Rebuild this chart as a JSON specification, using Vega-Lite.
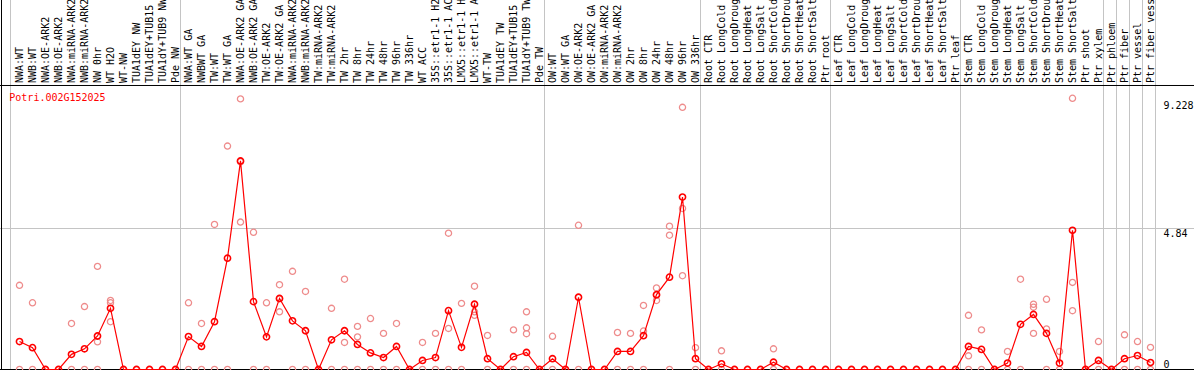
{
  "$schema": "https://vega.github.io/schema/vega-lite/v6.json",
  "width": 1194,
  "height": 370,
  "autosize": {"type": "none"},
  "padding": 0,
  "background": "white",
  "config": {"view": {"stroke": null}, "font": "DejaVu Sans Mono"},
  "resolve": {"axis": {"y": "independent", "x": "independent"}},
  "datasets": {
    "samples": [
      {"i": 0, "sample": "NWA:WT", "mean": 0.96},
      {"i": 1, "sample": "NWB:WT", "mean": 0.75},
      {"i": 2, "sample": "NWA:OE-ARK2", "mean": 0},
      {"i": 3, "sample": "NWB:OE-ARK2", "mean": 0},
      {"i": 4, "sample": "NWA:miRNA-ARK2", "mean": 0.52},
      {"i": 5, "sample": "NWB:miRNA-ARK2", "mean": 0.71},
      {"i": 6, "sample": "NW 0hr", "mean": 1.15},
      {"i": 7, "sample": "WT H2O", "mean": 2.1},
      {"i": 8, "sample": "WT-NW", "mean": 0},
      {"i": 9, "sample": "TUA1dEY NW", "mean": 0},
      {"i": 10, "sample": "TUA1dEY+TUB15 NW", "mean": 0},
      {"i": 11, "sample": "TUA1dY+TUB9 NW", "mean": 0},
      {"i": 12, "sample": "Pde NW", "mean": 0},
      {"i": 13, "sample": "NWA:WT GA", "mean": 1.13},
      {"i": 14, "sample": "NWBWT GA", "mean": 0.79},
      {"i": 15, "sample": "TW:WT", "mean": 1.64},
      {"i": 16, "sample": "TW:WT GA", "mean": 3.82},
      {"i": 17, "sample": "NWA:OE-ARK2 GA", "mean": 7.16},
      {"i": 18, "sample": "NWB:OE-ARK2 GA", "mean": 2.33},
      {"i": 19, "sample": "TW:OE-ARK2", "mean": 1.12},
      {"i": 20, "sample": "TW:OE-ARK2 GA", "mean": 2.44},
      {"i": 21, "sample": "NWA:miRNA-ARK2", "mean": 1.67},
      {"i": 22, "sample": "NWB:miRNA-ARK2", "mean": 1.33},
      {"i": 23, "sample": "TW:miRNA-ARK2", "mean": 0},
      {"i": 24, "sample": "TW:miRNA-ARK2", "mean": 1.02},
      {"i": 25, "sample": "TW 2hr", "mean": 1.33},
      {"i": 26, "sample": "TW 8hr", "mean": 0.86},
      {"i": 27, "sample": "TW 24hr", "mean": 0.57},
      {"i": 28, "sample": "TW 48hr", "mean": 0.41},
      {"i": 29, "sample": "TW 96hr", "mean": 0.79},
      {"i": 30, "sample": "TW 336hr", "mean": 0},
      {"i": 31, "sample": "WT ACC", "mean": 0.31},
      {"i": 32, "sample": "35S::etr1-1 H2O", "mean": 0.41},
      {"i": 33, "sample": "35S::etr1-1 ACC", "mean": 2.02},
      {"i": 34, "sample": "LMX5::etr1-1 H2O", "mean": 0.76},
      {"i": 35, "sample": "LMX5::etr1-1 ACC", "mean": 2.24},
      {"i": 36, "sample": "WT-TW", "mean": 0.37},
      {"i": 37, "sample": "TUA1dEY TW", "mean": 0},
      {"i": 38, "sample": "TUA1dEY+TUB15 TW", "mean": 0.44},
      {"i": 39, "sample": "TUA1dY+TUB9 TW", "mean": 0.585},
      {"i": 40, "sample": "Pde TW", "mean": 0},
      {"i": 41, "sample": "OW:WT", "mean": 0.37},
      {"i": 42, "sample": "OW:WT GA", "mean": 0},
      {"i": 43, "sample": "OW:OE-ARK2", "mean": 2.48},
      {"i": 44, "sample": "OW:OE-ARK2 GA", "mean": 0},
      {"i": 45, "sample": "OW:miRNA-ARK2", "mean": 0},
      {"i": 46, "sample": "OW:miRNA-ARK2", "mean": 0.62},
      {"i": 47, "sample": "OW 2hr", "mean": 0.62},
      {"i": 48, "sample": "OW 8hr", "mean": 1.16},
      {"i": 49, "sample": "OW 24hr", "mean": 2.57},
      {"i": 50, "sample": "OW 48hr", "mean": 3.17},
      {"i": 51, "sample": "OW 96hr", "mean": 5.92},
      {"i": 52, "sample": "OW 336hr", "mean": 0.37},
      {"i": 53, "sample": "Root CTR", "mean": 0},
      {"i": 54, "sample": "Root LongCold", "mean": 0.195},
      {"i": 55, "sample": "Root LongDrought", "mean": 0},
      {"i": 56, "sample": "Root LongHeat", "mean": 0},
      {"i": 57, "sample": "Root LongSalt", "mean": 0},
      {"i": 58, "sample": "Root ShortCold", "mean": 0.25},
      {"i": 59, "sample": "Root ShortDrought", "mean": 0},
      {"i": 60, "sample": "Root ShortHeat", "mean": 0},
      {"i": 61, "sample": "Root ShortSalt", "mean": 0},
      {"i": 62, "sample": "Ptr root", "mean": 0},
      {"i": 63, "sample": "Leaf CTR", "mean": 0},
      {"i": 64, "sample": "Leaf LongCold", "mean": 0},
      {"i": 65, "sample": "Leaf LongDrought", "mean": 0},
      {"i": 66, "sample": "Leaf LongHeat", "mean": 0},
      {"i": 67, "sample": "Leaf LongSalt", "mean": 0},
      {"i": 68, "sample": "Leaf ShortCold", "mean": 0},
      {"i": 69, "sample": "Leaf ShortDrought", "mean": 0},
      {"i": 70, "sample": "Leaf ShortHeat", "mean": 0},
      {"i": 71, "sample": "Leaf ShortSalt", "mean": 0},
      {"i": 72, "sample": "Ptr leaf", "mean": 0},
      {"i": 73, "sample": "Stem CTR", "mean": 0.79},
      {"i": 74, "sample": "Stem LongCold", "mean": 0.69},
      {"i": 75, "sample": "Stem LongDrought", "mean": 0},
      {"i": 76, "sample": "Stem LongHeat", "mean": 0.22},
      {"i": 77, "sample": "Stem LongSalt", "mean": 1.55},
      {"i": 78, "sample": "Stem ShortCold", "mean": 1.89},
      {"i": 79, "sample": "Stem ShortDrought", "mean": 1.24},
      {"i": 80, "sample": "Stem ShortHeat", "mean": 0.22},
      {"i": 81, "sample": "Stem ShortSalt", "mean": 4.78},
      {"i": 82, "sample": "Ptr shoot", "mean": 0},
      {"i": 83, "sample": "Ptr xylem", "mean": 0.31},
      {"i": 84, "sample": "Ptr phloem", "mean": 0},
      {"i": 85, "sample": "Ptr fiber", "mean": 0.37},
      {"i": 86, "sample": "Ptr vessel", "mean": 0.48},
      {"i": 87, "sample": "Ptr fiber vessel", "mean": 0.24}
    ],
    "reps": [
      {"i": 0, "value": 2.89}, {"i": 0, "value": 0},
      {"i": 1, "value": 2.29}, {"i": 1, "value": 0},
      {"i": 4, "value": 1.58}, {"i": 4, "value": 0},
      {"i": 5, "value": 2.16}, {"i": 5, "value": 0},
      {"i": 6, "value": 3.54}, {"i": 6, "value": 0.95}, {"i": 6, "value": 0},
      {"i": 7, "value": 2.29}, {"i": 7, "value": 1.64}, {"i": 7, "value": 2.37},
      {"i": 13, "value": 2.29}, {"i": 13, "value": 0},
      {"i": 14, "value": 1.58}, {"i": 14, "value": 0},
      {"i": 15, "value": 4.98}, {"i": 15, "value": 0},
      {"i": 16, "value": 7.67}, {"i": 16, "value": 0},
      {"i": 17, "value": 9.29}, {"i": 17, "value": 5.06}, {"i": 17, "value": 7.13},
      {"i": 18, "value": 4.71}, {"i": 18, "value": 0},
      {"i": 19, "value": 2.29}, {"i": 19, "value": 0},
      {"i": 20, "value": 2.91}, {"i": 20, "value": 1.98}, {"i": 20, "value": 2.43},
      {"i": 21, "value": 3.37}, {"i": 21, "value": 0},
      {"i": 22, "value": 2.68}, {"i": 22, "value": 0},
      {"i": 24, "value": 2.1}, {"i": 24, "value": 0},
      {"i": 25, "value": 3.1}, {"i": 25, "value": 0.93}, {"i": 25, "value": 0},
      {"i": 26, "value": 1.48}, {"i": 26, "value": 1.12}, {"i": 26, "value": 0},
      {"i": 27, "value": 1.75}, {"i": 27, "value": 0},
      {"i": 28, "value": 1.24}, {"i": 28, "value": 0},
      {"i": 29, "value": 1.58}, {"i": 29, "value": 0},
      {"i": 31, "value": 0.93}, {"i": 31, "value": 0},
      {"i": 32, "value": 1.24}, {"i": 32, "value": 0},
      {"i": 33, "value": 4.68}, {"i": 33, "value": 1.41}, {"i": 33, "value": 0},
      {"i": 34, "value": 2.27}, {"i": 34, "value": 0},
      {"i": 35, "value": 2.86}, {"i": 35, "value": 1.86}, {"i": 35, "value": 1.98},
      {"i": 36, "value": 1.17}, {"i": 36, "value": 0},
      {"i": 38, "value": 1.36}, {"i": 38, "value": 0},
      {"i": 39, "value": 1.98}, {"i": 39, "value": 1.43}, {"i": 39, "value": 1.23}, {"i": 39, "value": 0},
      {"i": 41, "value": 1.14}, {"i": 41, "value": 0},
      {"i": 43, "value": 4.95}, {"i": 43, "value": 0},
      {"i": 46, "value": 1.27}, {"i": 46, "value": 0},
      {"i": 47, "value": 1.24}, {"i": 47, "value": 0},
      {"i": 48, "value": 2.2}, {"i": 48, "value": 1.32}, {"i": 48, "value": 0},
      {"i": 49, "value": 2.8}, {"i": 49, "value": 2.37}, {"i": 49, "value": 2.55},
      {"i": 50, "value": 4.92}, {"i": 50, "value": 4.61}, {"i": 50, "value": 0},
      {"i": 51, "value": 9.0}, {"i": 51, "value": 5.53}, {"i": 51, "value": 3.22},
      {"i": 52, "value": 0.75}, {"i": 52, "value": 0},
      {"i": 54, "value": 0.64}, {"i": 54, "value": 0},
      {"i": 58, "value": 0.71}, {"i": 58, "value": 0},
      {"i": 73, "value": 1.86}, {"i": 73, "value": 0.47}, {"i": 73, "value": 0},
      {"i": 74, "value": 1.36}, {"i": 74, "value": 0},
      {"i": 76, "value": 0.62}, {"i": 76, "value": 0},
      {"i": 77, "value": 3.1}, {"i": 77, "value": 0},
      {"i": 78, "value": 2.24}, {"i": 78, "value": 2.14}, {"i": 78, "value": 1.24},
      {"i": 79, "value": 2.41}, {"i": 79, "value": 1.39}, {"i": 79, "value": 0},
      {"i": 80, "value": 0.62}, {"i": 80, "value": 0},
      {"i": 81, "value": 9.31}, {"i": 81, "value": 2.99}, {"i": 81, "value": 2.02},
      {"i": 83, "value": 0.96}, {"i": 83, "value": 0},
      {"i": 85, "value": 1.19}, {"i": 85, "value": 0},
      {"i": 86, "value": 0.96}, {"i": 86, "value": 0},
      {"i": 87, "value": 0.76}, {"i": 87, "value": 0}
    ],
    "separators": [
      {"b": -0.6923}, {"b": 12.3846}, {"b": 40.3846}, {"b": 52.3846},
      {"b": 62.3846}, {"b": 72.3846}, {"b": 83.3846}, {"b": 84.3846},
      {"b": 85.3846}, {"b": 86.3846}, {"b": 87.3846}
    ],
    "gene": [{"name": "Potri.002G152025"}]
  },
  "layer": [
    {
      "data": {"name": "separators"},
      "mark": {"type": "rule", "color": "#c4c4c4", "strokeWidth": 1},
      "encoding": {
        "x": {"field": "b", "type": "quantitative", "axis": null,
              "scale": {"domain": [-1.5, 90.346], "nice": false, "zero": false}}
      }
    },
    {
      "data": {"values": [{}]},
      "mark": {"type": "rule", "color": "#c4c4c4", "strokeWidth": 1},
      "encoding": {
        "y": {"datum": 4.84, "type": "quantitative", "axis": null,
              "scale": {"domain": [-0.01716, 12.6845], "nice": false, "zero": false}}
      }
    },
    {
      "data": {"values": [{}]},
      "mark": {"type": "rule", "color": "black", "strokeWidth": 1},
      "encoding": {"y": {"datum": 0, "type": "quantitative", "axis": null}}
    },
    {
      "data": {"values": [{}]},
      "mark": {"type": "rule", "color": "black", "strokeWidth": 1},
      "encoding": {"y": {"datum": 9.7494, "type": "quantitative", "axis": null}}
    },
    {
      "data": {"values": [{}]},
      "mark": {"type": "rule", "color": "black", "strokeWidth": 1},
      "encoding": {"x": {"datum": -1.3846, "type": "quantitative", "axis": null}}
    },
    {
      "data": {"name": "samples"},
      "mark": {"type": "text", "angle": 270, "align": "left", "baseline": "middle",
               "font": "DejaVu Sans Mono", "fontSize": 10, "color": "black", "clip": true},
      "encoding": {
        "x": {"field": "i", "type": "quantitative", "axis": null},
        "y": {"datum": 9.835, "type": "quantitative", "axis": null},
        "text": {"field": "sample"}
      }
    },
    {
      "data": {"name": "gene"},
      "mark": {"type": "text", "align": "left", "baseline": "alphabetic",
               "font": "DejaVu Sans Mono", "fontSize": 10, "color": "#ff0000"},
      "encoding": {
        "x": {"datum": -0.785, "type": "quantitative", "axis": null},
        "y": {"datum": 9.217, "type": "quantitative", "axis": null},
        "text": {"field": "name"}
      }
    },
    {
      "data": {"name": "reps"},
      "mark": {"type": "point", "shape": "circle", "filled": false, "color": "#ee8c8c",
               "size": 38, "strokeWidth": 1.3, "opacity": 1, "clip": true},
      "encoding": {
        "x": {"field": "i", "type": "quantitative", "axis": null},
        "y": {"field": "value", "type": "quantitative",
              "axis": {"orient": "right", "values": [0, 4.84, 9.228], "format": ".4~g",
                       "grid": false, "domain": false,
                       "ticks": false, "tickSize": 0, "labelPadding": 0, "offset": -31,
                       "labelFont": "DejaVu Sans Mono", "labelFontSize": 10, "labelColor": "black",
                       "labelAlign": "left", "labelFlush": false, "labelOverlap": false,
                       "labelBaseline": {"condition": {"test": "datum.value == 0", "value": "bottom"}, "value": "top"},
                       "title": null}}
      }
    },
    {
      "data": {"name": "samples"},
      "mark": {"type": "line", "color": "#ff0000", "strokeWidth": 1.2, "clip": true},
      "encoding": {
        "x": {"field": "i", "type": "quantitative", "axis": null},
        "y": {"field": "mean", "type": "quantitative", "axis": null}
      }
    },
    {
      "data": {"name": "samples"},
      "mark": {"type": "point", "shape": "circle", "filled": false, "color": "#ff0000",
               "size": 38, "strokeWidth": 1.6, "opacity": 1, "clip": true},
      "encoding": {
        "x": {"field": "i", "type": "quantitative", "axis": null},
        "y": {"field": "mean", "type": "quantitative", "axis": null}
      }
    }
  ]
}
